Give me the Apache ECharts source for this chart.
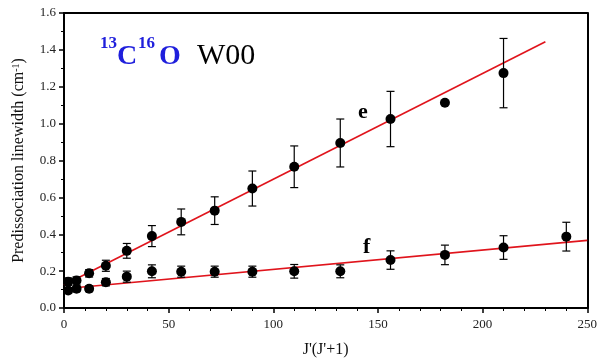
<!DOCTYPE html>
<html>
<head>
<meta charset="utf-8">
<script src="https://cdn.jsdelivr.net/npm/echarts@6/dist/echarts.min.js"></script>
<style>
  html, body { margin: 0; padding: 0; background: #fff; }
  #chart { width: 600px; height: 363px; }
</style>
</head>
<body>
<div id="chart"></div>
<script>
// J'(J'+1) values and measured linewidths (cm-1)
var eX = [2, 6, 12, 20, 30, 42, 56, 72, 90, 110, 132, 156, 182, 210];
var eY = [0.143, 0.149, 0.188, 0.229, 0.31, 0.39, 0.467, 0.528, 0.648, 0.766, 0.895, 1.025, 1.113, 1.274];
var eErr = [0.02, 0.02, 0.02, 0.03, 0.04, 0.057, 0.07, 0.075, 0.095, 0.113, 0.13, 0.15, 0, 0.188];

var fX = [2, 6, 12, 20, 30, 42, 56, 72, 90, 110, 132, 156, 182, 210, 240];
var fY = [0.095, 0.104, 0.104, 0.14, 0.17, 0.199, 0.197, 0.197, 0.197, 0.199, 0.199, 0.26, 0.288, 0.328, 0.387];
var fErr = [0.015, 0.015, 0.015, 0.02, 0.03, 0.035, 0.03, 0.03, 0.03, 0.037, 0.035, 0.05, 0.053, 0.064, 0.078];

// linear fits (end points)
var eFit = [[0, 0.125], [230, 1.444]];
var fFit = [[0, 0.104], [250, 0.367]];

var xTicks = [0, 50, 100, 150, 200, 250];
var yTicks = [0.0, 0.2, 0.4, 0.6, 0.8, 1.0, 1.2, 1.4, 1.6];

function pairs (xs, ys) {
  var out = []
  for (var i = 0; i < xs.length; i++) out.push([xs[i], ys[i]])
  return out
}
function triples (xs, ys, es) {
  var out = []
  for (var i = 0; i < xs.length; i++) {
    if (es[i] > 0) out.push([xs[i], ys[i], es[i]])
  }
  return out
}

function errorBar (params, api) {
  var x = api.value(0)
  var y = api.value(1)
  var e = api.value(2)
  var hi = api.coord([x, y + e])
  var lo = api.coord([x, y - e])
  var w = 4
  var st = { stroke: '#000', lineWidth: 1.2 }
  return {
    type: 'group',
    children: [
      { type: 'line', shape: { x1: hi[0], y1: hi[1], x2: lo[0], y2: lo[1] }, style: st },
      { type: 'line', shape: { x1: hi[0] - w, y1: hi[1], x2: hi[0] + w, y2: hi[1] }, style: st },
      { type: 'line', shape: { x1: lo[0] - w, y1: lo[1], x2: lo[0] + w, y2: lo[1] }, style: st }
    ]
  }
}

var serif = 'Liberation Serif'
var blue = '#1f1fdc'
var chart = echarts.init(document.getElementById('chart'))
chart.setOption({
  animation: false,
  grid: { left: 64, right: 12, top: 13, bottom: 52 },
  xAxis: [{
    type: 'value',
    min: xTicks[0],
    max: xTicks[xTicks.length - 1],
    interval: 50,
    name: "J'(J'+1)",
    nameLocation: 'middle',
    nameGap: 34,
    nameTextStyle: { fontFamily: serif, fontSize: 16, color: '#111' },
    axisLine: { lineStyle: { color: '#000', width: 2 } },
    axisTick: { length: 5, lineStyle: { color: '#000', width: 1.5 } },
    minorTick: { show: true, splitNumber: 5, length: 3, lineStyle: { color: '#000', width: 1 } },
    axisLabel: { fontFamily: serif, fontSize: 13, color: '#222', margin: 10 },
    splitLine: { show: false }
  }, {
    type: 'value',
    position: 'top',
    min: xTicks[0],
    max: xTicks[xTicks.length - 1],
    axisLine: { show: true, onZero: false, lineStyle: { color: '#000', width: 2 } },
    axisTick: { show: false },
    axisLabel: { show: false },
    splitLine: { show: false }
  }],
  yAxis: [{
    type: 'value',
    min: yTicks[0],
    max: yTicks[yTicks.length - 1],
    interval: 0.2,
    name: '{n|Predissociation linewidth (cm}{s|-1}{n|)}',
    nameLocation: 'middle',
    nameGap: 37,
    nameTextStyle: {
      rich: {
        n: { fontFamily: serif, fontSize: 16, color: '#111' },
        s: { fontFamily: serif, fontSize: 10, color: '#111', verticalAlign: 'top', lineHeight: 14 }
      }
    },
    axisLine: { lineStyle: { color: '#000', width: 2 } },
    axisTick: { length: 5, lineStyle: { color: '#000', width: 1.5 } },
    minorTick: { show: true, splitNumber: 2, length: 3, lineStyle: { color: '#000', width: 1 } },
    axisLabel: {
      fontFamily: serif, fontSize: 13, color: '#222', margin: 8,
      formatter: function (v) { return v.toFixed(1) }
    },
    splitLine: { show: false }
  }, {
    type: 'value',
    position: 'right',
    min: yTicks[0],
    max: yTicks[yTicks.length - 1],
    axisLine: { show: true, onZero: false, lineStyle: { color: '#000', width: 2 } },
    axisTick: { show: false },
    axisLabel: { show: false },
    splitLine: { show: false }
  }],
  graphic: [
    { type: 'text', left: 100, top: 35, style: { text: '13', fontFamily: serif, fontWeight: 'bold', fontSize: 17, fill: blue } },
    { type: 'text', left: 117, top: 43, style: { text: 'C', fontFamily: serif, fontWeight: 'bold', fontSize: 28, fill: blue } },
    { type: 'text', left: 138, top: 35, style: { text: '16', fontFamily: serif, fontWeight: 'bold', fontSize: 17, fill: blue } },
    { type: 'text', left: 159, top: 43, style: { text: 'O', fontFamily: serif, fontWeight: 'bold', fontSize: 28, fill: blue } },
    { type: 'text', left: 197, top: 41, style: { text: 'W00', fontFamily: serif, fontSize: 30, fill: '#000' } },
    { type: 'text', left: 358, top: 101, style: { text: 'e', fontFamily: serif, fontWeight: 'bold', fontSize: 22, fill: '#000' } },
    { type: 'text', left: 363, top: 236, style: { text: 'f', fontFamily: serif, fontWeight: 'bold', fontSize: 22, fill: '#000' } }
  ],
  series: [
    {
      type: 'line',
      data: eFit,
      symbol: 'none',
      lineStyle: { color: '#e0141c', width: 1.6 },
      z: 3
    },
    {
      type: 'line',
      data: fFit,
      symbol: 'none',
      lineStyle: { color: '#e0141c', width: 1.6 },
      z: 3
    },
    {
      type: 'custom',
      renderItem: errorBar,
      data: triples(eX, eY, eErr),
      z: 4
    },
    {
      type: 'custom',
      renderItem: errorBar,
      data: triples(fX, fY, fErr),
      z: 4
    },
    {
      type: 'scatter',
      data: pairs(eX, eY),
      symbol: 'circle',
      symbolSize: 10,
      itemStyle: { color: '#000', opacity: 1 },
      z: 5
    },
    {
      type: 'scatter',
      data: pairs(fX, fY),
      symbol: 'circle',
      symbolSize: 10,
      itemStyle: { color: '#000', opacity: 1 },
      z: 5
    }
  ]
})
</script>
</body>
</html>
